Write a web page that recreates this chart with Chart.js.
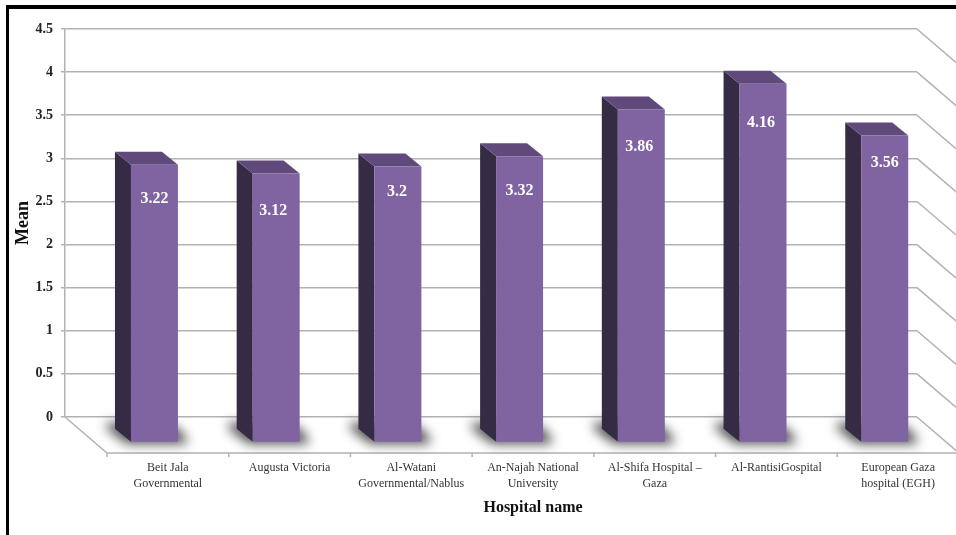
<!DOCTYPE html>
<html>
<head>
<meta charset="utf-8">
<title>Mean by hospital</title>
<script src="https://cdn.jsdelivr.net/npm/chart.js@4"></script>
<style>
  body { margin: 0; background: #fff; }
  #wrap { position: relative; width: 956px; height: 535px; overflow: hidden; }
  #frame { position: absolute; left: 6px; top: 5px; right: 0; bottom: 0; border-left: 3px solid #000; border-top: 4px solid #000; }
  canvas { position: absolute; left: 0; top: 0; }
</style>
</head>
<body>
<div id="wrap">
  <canvas id="meanChart" width="956" height="535"></canvas>
  <div id="frame"></div>
</div>
<script>
const hospitals = [
  ['Beit Jala', 'Governmental'],
  ['Augusta Victoria'],
  ['Al-Watani', 'Governmental/Nablus'],
  ['An-Najah National', 'University'],
  ['Al-Shifa Hospital \u2013', 'Gaza'],
  ['Al-RantisiGospital'],
  ['European Gaza', 'hospital (EGH)']
];
const means = [3.22, 3.12, 3.2, 3.32, 3.86, 4.16, 3.56];

// hand placed value labels: distance below the bar top, and sideways nudge
const labelDrop = [34, 37, 25.5, 34.5, 37, 39.5, 27];
const labelShift = [0, -3, -1, 0, -2, -2, 0];

const serif = '"Liberation Serif", "Times New Roman", serif';
const gridColor = '#b2b2b2';

// 3D look: how far the floor runs forward, where the bar fronts sit on it, bar depth
const floor = { dx: 42, dy: 36 };
const front = { dx: 28.6, dy: 25.4 };
const depth = { dx: 16, dy: 13 };

function poly(ctx, pts) {
  ctx.beginPath();
  pts.forEach((p, i) => (i ? ctx.lineTo(p[0], p[1]) : ctx.moveTo(p[0], p[1])));
  ctx.closePath();
  ctx.fill();
}

const wallsPlugin = {
  id: 'walls',
  beforeDatasetsDraw(chart) {
    const { ctx, chartArea: area, scales: { y } } = chart;
    ctx.save();
    ctx.strokeStyle = gridColor;
    ctx.lineWidth = 1.5;

    // side wall lines running forward from the back wall
    y.ticks.forEach(t => {
      const py = y.getPixelForValue(t.value);
      ctx.beginPath();
      ctx.moveTo(area.right, py);
      ctx.lineTo(area.right + floor.dx, py + floor.dy);
      ctx.stroke();
    });

    // floor edges
    const fy = area.bottom + floor.dy;
    ctx.beginPath();
    ctx.moveTo(area.left, area.bottom);
    ctx.lineTo(area.left + floor.dx, fy);
    ctx.lineTo(area.right + floor.dx, fy);
    ctx.stroke();

    // tick marks along the front floor edge
    const step = area.width / hospitals.length;
    for (let i = 0; i <= hospitals.length; i++) {
      const tx = area.left + floor.dx + step * i;
      ctx.beginPath();
      ctx.moveTo(tx, fy);
      ctx.lineTo(tx, fy + 4);
      ctx.stroke();
    }

    // soft shadow of each bar on the floor
    const meta = chart.getDatasetMeta(0);
    ctx.fillStyle = 'rgba(0,0,0,0.7)';
    ctx.filter = 'blur(6px)';
    meta.data.forEach(bar => {
      const left = bar.x - bar.width / 2 + front.dx;
      const right = bar.x + bar.width / 2 + front.dx;
      const base = bar.base + front.dy;
      poly(ctx, [
        [left - 24, base - 19],
        [left - 24, base - 13],
        [left - 4, base + 2],
        [right + 9, base + 2],
        [right + 8, base - 4],
        [right - 2, base - 15],
        [left, base - 19]
      ]);
    });
    ctx.restore();
  },
  beforeDatasetDraw(chart) {
    const ctx = chart.ctx;
    ctx.save();
    ctx.translate(front.dx, front.dy);
    chart.getDatasetMeta(0).data.forEach(bar => {
      const left = bar.x - bar.width / 2;
      const right = bar.x + bar.width / 2;
      ctx.fillStyle = '#352b45';
      poly(ctx, [
        [left, bar.y],
        [left, bar.base],
        [left - depth.dx, bar.base - depth.dy],
        [left - depth.dx, bar.y - depth.dy]
      ]);
      ctx.fillStyle = '#604a7b';
      poly(ctx, [
        [left, bar.y],
        [right, bar.y],
        [right - depth.dx, bar.y - depth.dy],
        [left - depth.dx, bar.y - depth.dy]
      ]);
    });
  },
  afterDatasetDraw(chart) {
    chart.ctx.restore();
  },
  afterDatasetsDraw(chart) {
    const { ctx, chartArea: area } = chart;
    ctx.save();
    ctx.textAlign = 'center';
    ctx.textBaseline = 'middle';

    // values on the bar fronts
    ctx.fillStyle = '#fff';
    ctx.font = 'bold 16px ' + serif;
    chart.getDatasetMeta(0).data.forEach((bar, i) => {
      ctx.fillText(String(means[i]), bar.x + front.dx + labelShift[i], bar.y + front.dy + labelDrop[i]);
    });

    // category names sit under the front floor edge
    const step = area.width / hospitals.length;
    ctx.fillStyle = '#333';
    ctx.font = '12px ' + serif;
    hospitals.forEach((lines, i) => {
      const cx = area.left + floor.dx + step * (i + 0.5);
      lines.forEach((line, j) => ctx.fillText(line, cx, 468 + j * 16));
    });

    ctx.fillStyle = '#111';
    ctx.font = 'bold 16px ' + serif;
    ctx.fillText('Hospital name', area.left + floor.dx + area.width / 2, 508);
    ctx.restore();
  }
};

new Chart(document.getElementById('meanChart').getContext('2d'), {
  type: 'bar',
  data: {
    labels: hospitals,
    datasets: [{
      label: 'Mean',
      data: means,
      backgroundColor: '#8064a2',
      barPercentage: 0.386,
      categoryPercentage: 1,
      clip: false
    }]
  },
  options: {
    responsive: false,
    animation: false,
    layout: { padding: { top: 29, right: 39, left: 0, bottom: 0 } },
    plugins: { legend: { display: false }, tooltip: { enabled: false } },
    scales: {
      x: {
        afterFit: scale => { scale.height = 118; },
        grid: { display: false },
        border: { display: false },
        ticks: { display: false }
      },
      y: {
        min: 0,
        max: 4.5,
        afterFit: scale => { scale.width = 65; },
        grid: { color: gridColor, lineWidth: 1.5, tickLength: 4 },
        border: { color: gridColor, width: 1.5 },
        ticks: {
          stepSize: 0.5,
          padding: 8,
          color: '#222',
          font: { family: serif, size: 14, weight: 'bold' },
          callback: value => String(value)
        },
        title: {
          display: true,
          text: 'Mean',
          color: '#111',
          padding: { top: 13, bottom: 0 },
          font: { family: serif, size: 18, weight: 'bold' }
        }
      }
    }
  },
  plugins: [wallsPlugin]
});
</script>
</body>
</html>
